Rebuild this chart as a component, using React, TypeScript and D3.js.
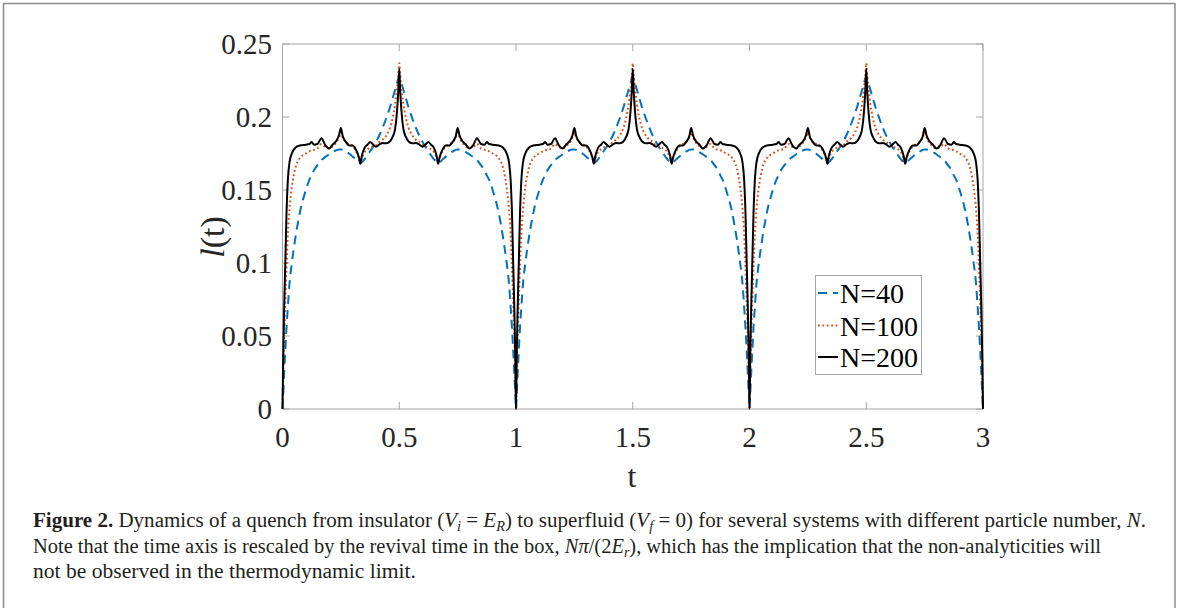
import React from "react";
import * as d3 from "d3";

// one revival period (t in [0,1]); the three periods drawn are identical copies
const PERIOD_T = [
  0, 0.003, 0.007, 0.012, 0.017, 0.023, 0.03, 0.04, 0.055, 0.075, 0.1, 0.115, 0.125, 0.135, 0.15,
  0.1667, 0.183, 0.2, 0.215, 0.23, 0.242, 0.25, 0.258, 0.27, 0.286, 0.3, 0.315, 0.327, 0.3333, 0.34,
  0.352, 0.365, 0.375, 0.388, 0.4, 0.415, 0.4286, 0.445, 0.46, 0.472, 0.482, 0.49, 0.496, 0.5,
  0.504, 0.51, 0.518, 0.528, 0.54, 0.555, 0.5714, 0.585, 0.6, 0.612, 0.625, 0.635, 0.648, 0.66,
  0.6667, 0.673, 0.685, 0.7, 0.714, 0.73, 0.742, 0.75, 0.758, 0.77, 0.785, 0.8, 0.817, 0.8333,
  0.85, 0.865, 0.875, 0.885, 0.9, 0.925, 0.945, 0.96, 0.97, 0.977, 0.983, 0.988, 0.993, 0.997, 1,
];

const N40 = [
  0, 0.01, 0.024, 0.04, 0.055, 0.07, 0.086, 0.1, 0.117, 0.135, 0.15, 0.157, 0.16, 0.1635, 0.167,
  0.1705, 0.1725, 0.1745, 0.176, 0.1772, 0.1778, 0.1778, 0.1775, 0.1765, 0.1748, 0.173, 0.1708,
  0.169, 0.1685, 0.169, 0.1712, 0.174, 0.1765, 0.1795, 0.1828, 0.1875, 0.1925, 0.1995, 0.2065,
  0.213, 0.2185, 0.223, 0.2262, 0.2275,
  0.2262, 0.223, 0.2185, 0.213, 0.2065, 0.1995, 0.1925, 0.1875, 0.1828, 0.1795, 0.1765, 0.174,
  0.1712, 0.169, 0.1685, 0.169, 0.1708, 0.173, 0.1748, 0.1765, 0.1775, 0.1778, 0.1778, 0.1772,
  0.176, 0.1745, 0.1725, 0.1705, 0.167, 0.1635, 0.16, 0.157, 0.15, 0.135, 0.117, 0.1, 0.086,
  0.07, 0.055, 0.04, 0.024, 0.01, 0,
];

const N100 = [
  0, 0.022, 0.048, 0.074, 0.096, 0.12, 0.137, 0.152, 0.165, 0.172, 0.175, 0.1765, 0.1772, 0.1775,
  0.1785, 0.1815, 0.1795, 0.1785, 0.18, 0.1825, 0.186, 0.1895, 0.186, 0.183, 0.1815, 0.18, 0.1765,
  0.172, 0.169, 0.172, 0.176, 0.178, 0.179, 0.18, 0.1805, 0.183, 0.1845, 0.1875, 0.1925, 0.1995,
  0.2085, 0.219, 0.229, 0.2368,
  0.229, 0.219, 0.2085, 0.1995, 0.1925, 0.1875, 0.1845, 0.183, 0.1805, 0.18, 0.179, 0.178, 0.176,
  0.172, 0.169, 0.172, 0.1765, 0.18, 0.1815, 0.183, 0.186, 0.1895, 0.186, 0.1825, 0.18, 0.1785,
  0.1795, 0.1815, 0.1785, 0.1775, 0.1772, 0.1765, 0.175, 0.172, 0.165, 0.152, 0.137, 0.12, 0.096,
  0.074, 0.048, 0.022, 0,
];

const N200 = [
  0, 0.035, 0.068, 0.1, 0.133, 0.157, 0.169, 0.175, 0.179, 0.1805, 0.181, 0.1815, 0.1828, 0.181,
  0.1815, 0.1855, 0.1808, 0.1785, 0.1812, 0.1835, 0.1875, 0.1925, 0.1868, 0.1832, 0.1805, 0.1805,
  0.1775, 0.1725, 0.168, 0.1735, 0.179, 0.1812, 0.1828, 0.1812, 0.1797, 0.1812, 0.1822, 0.182,
  0.1832, 0.1865, 0.1915, 0.203, 0.218, 0.233,
  0.218, 0.203, 0.1915, 0.1865, 0.1832, 0.182, 0.1822, 0.1812, 0.1797, 0.1812, 0.1828, 0.1812,
  0.179, 0.1735, 0.168, 0.1725, 0.1775, 0.1805, 0.1805, 0.1832, 0.1868, 0.1925, 0.1875, 0.1835,
  0.1812, 0.1785, 0.1808, 0.1855, 0.1815, 0.181, 0.1828, 0.1815, 0.181, 0.1805, 0.179, 0.175,
  0.169, 0.157, 0.133, 0.1, 0.068, 0.035, 0,
];

const PERIODS = [0, 1, 2];
const X_TICKS = [0, 0.5, 1, 1.5, 2, 2.5, 3];
const X_TICK_LABELS = ["0", "0.5", "1", "1.5", "2", "2.5", "3"];
const Y_TICKS = [0, 0.05, 0.1, 0.15, 0.2, 0.25];
const Y_TICK_LABELS = ["0", "0.05", "0.1", "0.15", "0.2", "0.25"];
const LEGEND_LABELS = ["N=40", "N=100", "N=200"];

type Pt = [number, number];

function tile(values: number[]): Pt[] {
  const out: Pt[] = [];
  PERIODS.forEach((p, k) => {
    PERIOD_T.forEach((t, i) => {
      if (k > 0 && i === 0) return;
      out.push([p + t, values[i]]);
    });
  });
  return out;
}

const W = 1179;
const H = 608;
const M = { left: 282.5, right: 983, top: 44, bottom: 409 };

export default function App() {
  const x = d3.scaleLinear().domain([0, 3]).range([M.left, M.right]);
  const y = d3.scaleLinear().domain([0, 0.25]).range([M.bottom, M.top]);
  const line = d3
    .line<Pt>()
    .x((d) => x(d[0]))
    .y((d) => y(d[1]))
    .curve(d3.curveMonotoneX);

  const series = [
    { data: tile(N40), color: "#0072BD", dash: "9,6", width: 2 },
    { data: tile(N100), color: "#D95319", dash: "1.8,2.6", width: 2 },
    { data: tile(N200), color: "#000000", dash: undefined as string | undefined, width: 2 },
  ];

  const axisColor = "#a6a6a6";
  const tickLen = 7;
  const tickFont = "'Liberation Serif', 'Times New Roman', serif";
  const capFont = "'Liberation Serif', 'Times New Roman', serif";

  const legendX = 815.5;
  const legendY = 275.5;
  const legendRows = [293, 325.5, 357];

  return (
    <svg
      width={W}
      height={H}
      style={{ position: "absolute", left: 0, top: 0, background: "#fff" }}
    >
      {/* figure frame */}
      <line x1={3} y1={3.5} x2={1175} y2={3.5} stroke="#8c8c8c" strokeWidth={1.5} />
      <line x1={3.5} y1={3} x2={3.5} y2={H} stroke="#8c8c8c" strokeWidth={1.5} />
      <line x1={1175} y1={3} x2={1175} y2={H} stroke="#8c8c8c" strokeWidth={1.5} />

      <defs>
        <clipPath id="plotclip">
          <rect x={M.left - 2} y={M.top - 10} width={M.right - M.left + 4} height={M.bottom - M.top + 12} />
        </clipPath>
      </defs>

      {/* axes box */}
      <rect
        x={M.left}
        y={M.top}
        width={M.right - M.left}
        height={M.bottom - M.top}
        fill="none"
        stroke={axisColor}
        strokeWidth={1}
      />
      {X_TICKS.map((t) => (
        <g key={"xt" + t}>
          <line x1={x(t)} x2={x(t)} y1={M.bottom} y2={M.bottom - tickLen} stroke={axisColor} />
          <line x1={x(t)} x2={x(t)} y1={M.top} y2={M.top + tickLen} stroke={axisColor} />
        </g>
      ))}
      {Y_TICKS.map((v) => (
        <g key={"yt" + v}>
          <line x1={M.left} x2={M.left + tickLen} y1={y(v)} y2={y(v)} stroke={axisColor} />
          <line x1={M.right} x2={M.right - tickLen} y1={y(v)} y2={y(v)} stroke={axisColor} />
        </g>
      ))}

      {/* curves */}
      <g clipPath="url(#plotclip)">
        {series.map((s, i) => (
          <path
            key={i}
            d={line(s.data) || ""}
            fill="none"
            stroke={s.color}
            strokeWidth={s.width}
            strokeDasharray={s.dash}
            strokeLinejoin="round"
          />
        ))}
      </g>

      {/* tick labels */}
      {X_TICKS.map((t, i) => (
        <text
          key={"xl" + t}
          x={x(t)}
          y={447}
          textAnchor="middle"
          fontFamily={tickFont}
          fontSize={29}
          fill="#262626"
        >
          {X_TICK_LABELS[i]}
        </text>
      ))}
      {Y_TICKS.map((v, i) => (
        <text
          key={"yl" + v}
          x={272}
          y={y(v) + 10}
          textAnchor="end"
          fontFamily={tickFont}
          fontSize={29}
          fill="#262626"
        >
          {Y_TICK_LABELS[i]}
        </text>
      ))}

      {/* axis labels */}
      <text x={632} y={487} textAnchor="middle" fontFamily={tickFont} fontSize={32} fill="#262626">
        t
      </text>
      <text
        transform="translate(224,237) rotate(-90)"
        textAnchor="middle"
        fontFamily={tickFont}
        fontSize={34}
        fill="#262626"
      >
        <tspan fontStyle="italic">l</tspan>
        <tspan>(t)</tspan>
      </text>

      {/* legend */}
      <rect x={legendX} y={legendY} width={106} height={99} fill="#fff" stroke="#a6a6a6" strokeWidth={1} />
      {series.map((s, i) => (
        <g key={"lg" + i}>
          <line
            x1={818}
            x2={838}
            y1={legendRows[i]}
            y2={legendRows[i]}
            stroke={s.color}
            strokeWidth={s.width}
            strokeDasharray={s.dash}
          />
          <text x={840} y={legendRows[i] + 10} fontFamily={tickFont} fontSize={28} fill="#000">
            {LEGEND_LABELS[i]}
          </text>
        </g>
      ))}

      {/* caption */}
      <text x={33} y={527} fontFamily={capFont} fontSize={20.5} fill="#231f20" textLength={1113} lengthAdjust="spacingAndGlyphs">
        <tspan fontWeight="bold">Figure 2.</tspan>
        <tspan> Dynamics of a quench from insulator (</tspan>
        <tspan fontStyle="italic">V</tspan>
        <tspan fontStyle="italic" fontSize={14} dy={4}>i</tspan>
        <tspan dy={-4}> = </tspan>
        <tspan fontStyle="italic">E</tspan>
        <tspan fontStyle="italic" fontSize={14} dy={4}>R</tspan>
        <tspan dy={-4}>) to superfluid (</tspan>
        <tspan fontStyle="italic">V</tspan>
        <tspan fontStyle="italic" fontSize={14} dy={4}>f</tspan>
        <tspan dy={-4}> = 0) for several systems with different particle number, </tspan>
        <tspan fontStyle="italic">N</tspan>
        <tspan>.</tspan>
      </text>
      <text x={33} y={552.5} fontFamily={capFont} fontSize={20.5} fill="#231f20" textLength={1068} lengthAdjust="spacingAndGlyphs">
        <tspan>Note that the time axis is rescaled by the revival time in the box, </tspan>
        <tspan fontStyle="italic">Nπ</tspan>
        <tspan>/(2</tspan>
        <tspan fontStyle="italic">E</tspan>
        <tspan fontStyle="italic" fontSize={14} dy={4}>r</tspan>
        <tspan dy={-4}>), which has the implication that the non-analyticities will</tspan>
      </text>
      <text x={33} y={578} fontFamily={capFont} fontSize={20.5} fill="#231f20" textLength={383} lengthAdjust="spacingAndGlyphs">
        not be observed in the thermodynamic limit.
      </text>
    </svg>
  );
}
